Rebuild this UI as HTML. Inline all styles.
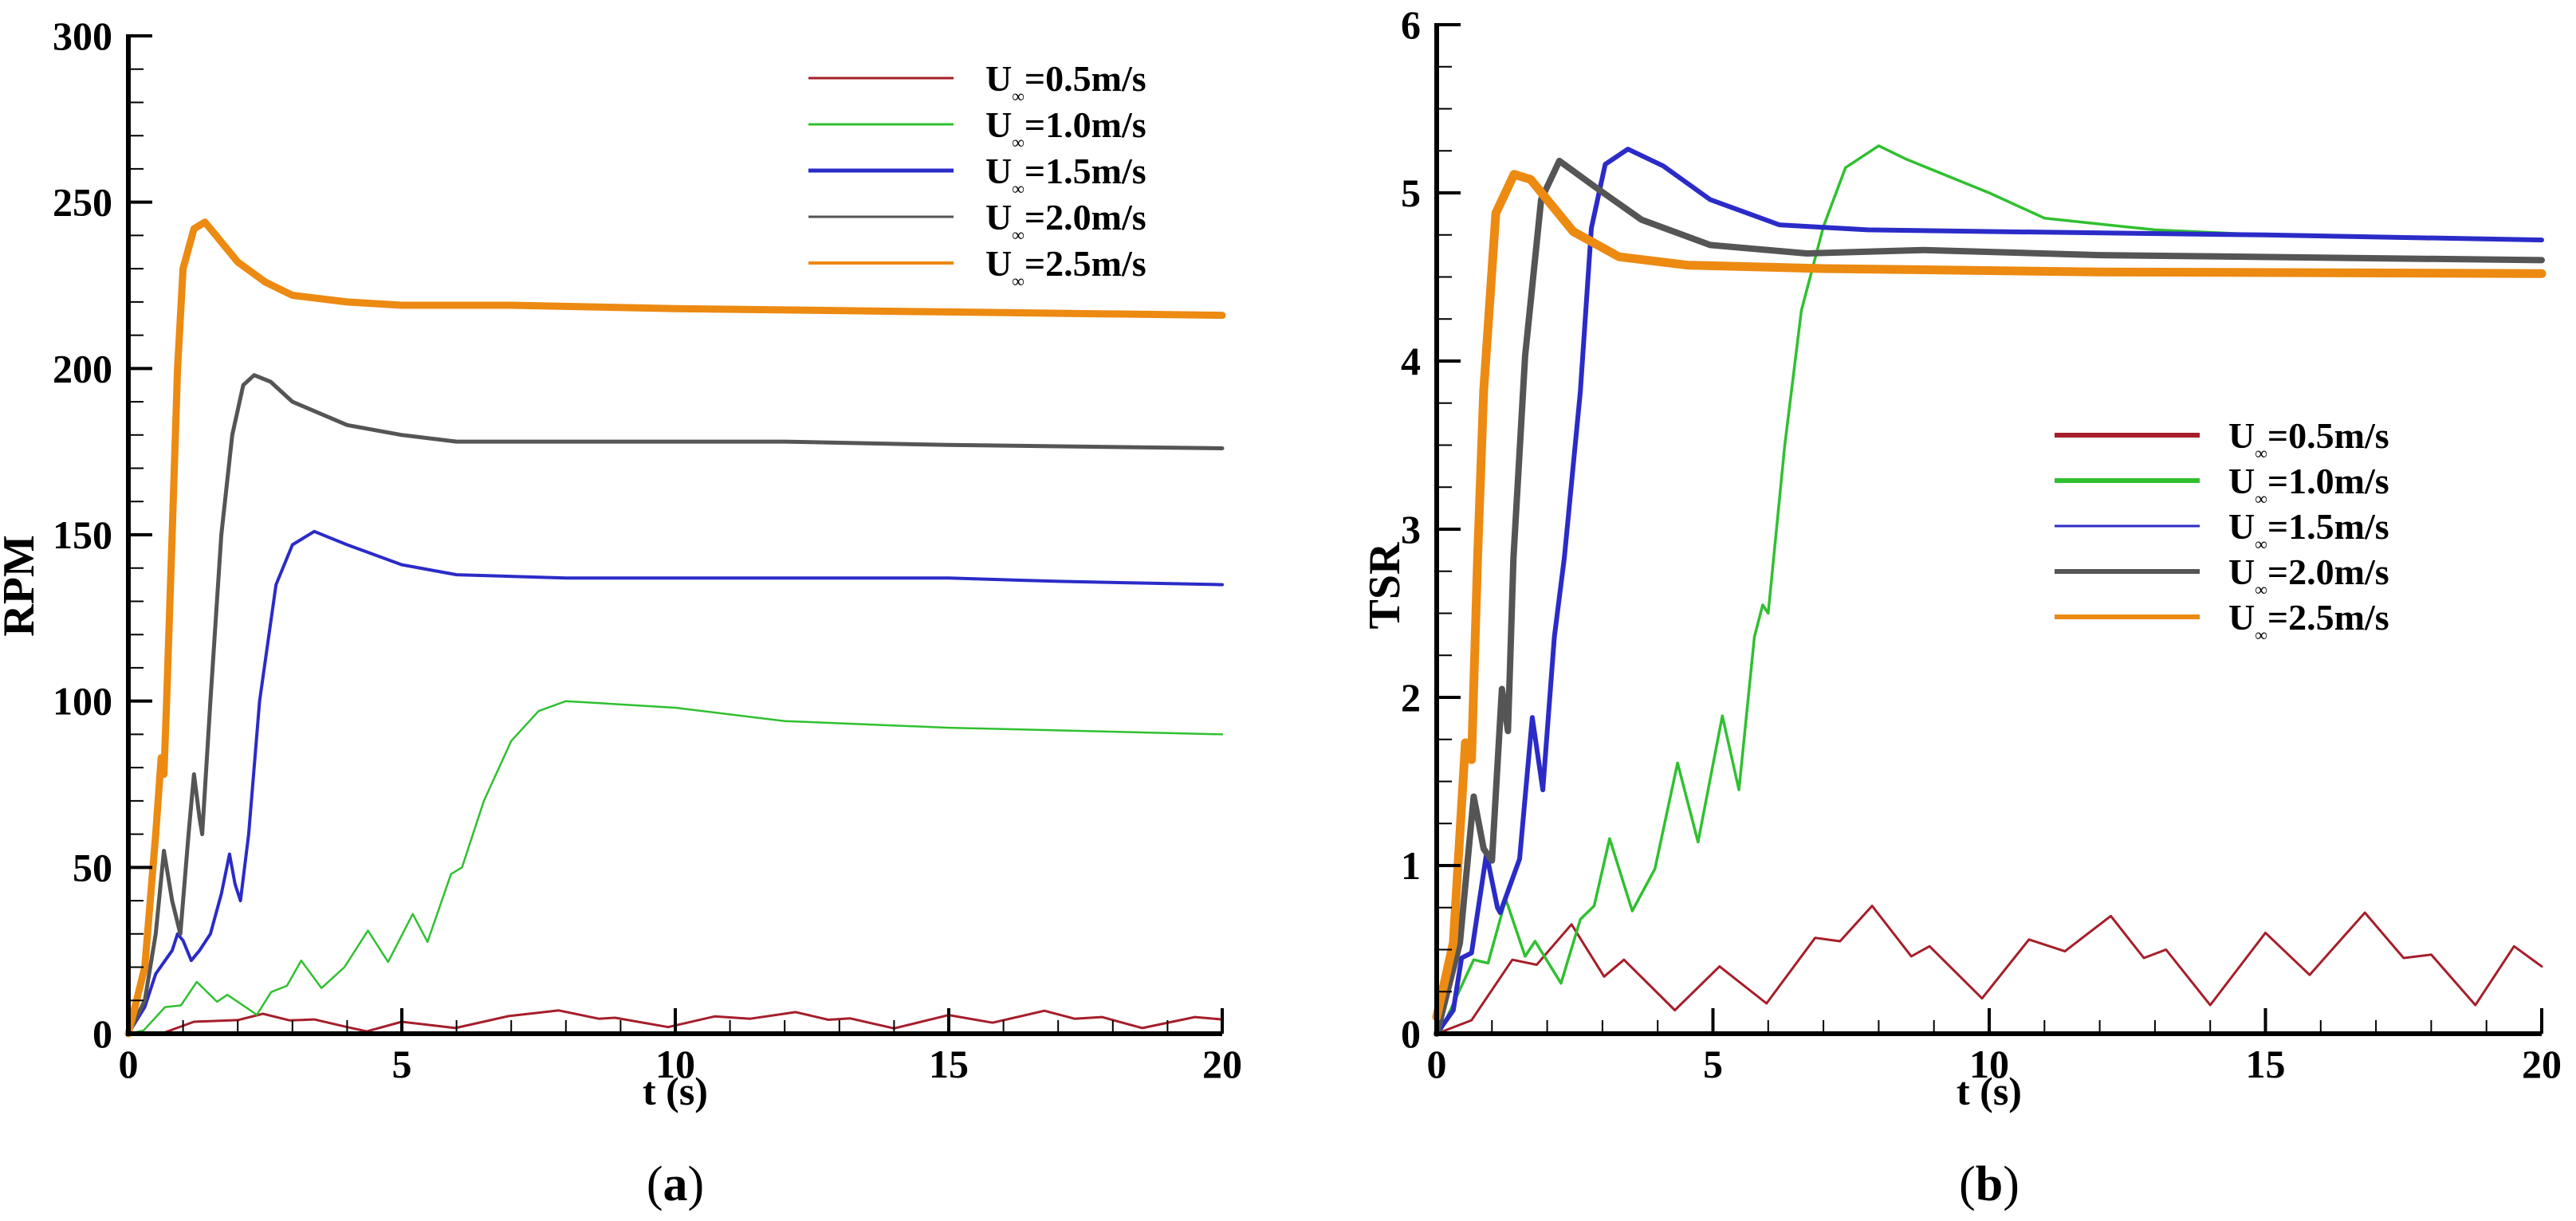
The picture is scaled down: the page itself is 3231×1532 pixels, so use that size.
<!DOCTYPE html>
<html><head><meta charset="utf-8"><style>
html,body{margin:0;padding:0;background:#fff;}
svg{display:block;font-family:"Liberation Serif","DejaVu Serif",serif;}
</style></head><body>
<svg id="fig" width="3231" height="1532" viewBox="0 0 3231 1532" xmlns="http://www.w3.org/2000/svg">
<g id="pa"></g>
<g id="pb"></g>
</svg>
<script>
// ---- Chart (a) RPM data ----
const rpmT05 = [0,0.6,1.2,2.0,2.46,2.95,3.4,3.97,4.36,5.0,5.98,6.95,7.87,8.6,8.9,9.87,10.72,11.37,12.2,12.8,13.2,14.0,15.0,15.8,16.75,17.3,17.8,18.54,19.5,20];
const rpmV05 = [0,0,3.6,4.1,6,4,4.3,2.1,0.7,3.6,1.7,5.3,7,4.5,4.8,2,5.2,4.5,6.5,4.2,4.6,1.6,5.6,3.3,6.9,4.5,5,1.7,5,4.3];
const rpmT10 = [0,0.28,0.67,0.96,1.25,1.62,1.81,2.35,2.61,2.9,3.16,3.53,3.95,4.38,4.75,5.2,5.47,5.9,6.1,6.5,7,7.5,8,10,12,15,20];
const rpmV10 = [0,1,8,8.5,15.6,9.6,11.7,5.7,12.5,14.4,22,13.7,20,31,21.6,36,27.6,48,50,70,88,97,100,98,94,92,90];
const rpmT15 = [0,0.3,0.5,0.8,0.9,1.0,1.15,1.3,1.5,1.7,1.85,1.95,2.05,2.2,2.4,2.7,3.0,3.4,4,5,6,8,10,12,15,17,20];
const rpmV15 = [0,8,18,25,30,28,22,25,30,42,54,45,40,60,100,135,147,151,147,141,138,137,137,137,137,136,135];
const rpmT20 = [0,0.3,0.5,0.65,0.8,0.95,1.1,1.2,1.3,1.35,1.5,1.7,1.9,2.1,2.3,2.6,3,4,5,6,8,10,12,15,20];
const rpmV20 = [0,10,30,55,40,30,60,78,65,60,100,150,180,195,198,196,190,183,180,178,178,178,178,177,176];
const rpmT25 = [0,0.3,0.5,0.6,0.65,0.7,0.8,0.9,1.0,1.2,1.4,1.6,2.0,2.5,3,4,5,7,10,15,20];
const rpmV25 = [0,20,60,83,78,100,150,200,230,242,244,240,232,226,222,220,219,219,218,217,216];
// ---- Chart (b) TSR data ----
const tsrT05 = [0,0.63,1.37,1.81,2.44,3.03,3.39,4.31,5.12,5.97,6.85,7.3,7.88,8.59,8.92,9.87,10.72,11.37,12.2,12.8,13.2,14.0,15.0,15.8,16.8,17.5,18.0,18.8,19.5,20];
const tsrV05 = [0,0.08,0.44,0.41,0.65,0.34,0.44,0.14,0.40,0.18,0.57,0.55,0.76,0.46,0.52,0.21,0.56,0.49,0.7,0.45,0.5,0.17,0.6,0.35,0.72,0.45,0.47,0.17,0.52,0.4];
const tsrT10 = [0,0.05,0.67,0.93,1.25,1.6,1.78,2.25,2.6,2.85,3.13,3.54,3.95,4.36,4.73,5.17,5.47,5.75,5.9,6.0,6.3,6.6,7.0,7.4,8.0,8.5,10,11,13,15,20];
const tsrV10 = [0,0,0.44,0.42,0.80,0.46,0.55,0.30,0.68,0.76,1.16,0.73,0.98,1.61,1.14,1.89,1.45,2.36,2.55,2.5,3.5,4.3,4.8,5.15,5.28,5.2,5.0,4.85,4.78,4.75,4.72];
const tsrT15 = [0,0.3,0.45,0.63,0.9,1.1,1.15,1.5,1.73,1.92,2.13,2.31,2.6,2.8,3.05,3.46,4.1,4.95,6.2,7.8,10,15,20];
const tsrV15 = [0,0.14,0.45,0.48,1.07,0.75,0.72,1.04,1.88,1.45,2.36,2.83,3.82,4.79,5.17,5.26,5.16,4.96,4.81,4.78,4.77,4.75,4.72];
const tsrT20 = [0,0.42,0.67,0.85,1.0,1.18,1.29,1.39,1.6,1.89,2.22,2.89,3.71,4.95,6.7,8.8,12,20];
const tsrV20 = [0,0.54,1.41,1.1,1.03,2.05,1.8,2.83,4.03,4.96,5.19,5.03,4.84,4.69,4.64,4.66,4.63,4.6];
const tsrT25 = [0,0.3,0.52,0.63,0.74,0.85,1.07,1.4,1.7,2.47,3.3,4.54,7.0,12,20];
const tsrV25 = [0.1,0.54,1.73,1.63,2.83,3.82,4.88,5.11,5.08,4.77,4.62,4.57,4.55,4.53,4.52];
const legendLabels = ["=0.5m/s","=1.0m/s","=1.5m/s","=2.0m/s","=2.5m/s"];
const xTicks = [0,5,10,15,20];
const rpmTicks = [0,50,100,150,200,250,300];
const tsrTicks = [0,1,2,3,4,5,6];

const NS="http://www.w3.org/2000/svg";
function mk(parent,tag,attrs){const e=document.createElementNS(NS,tag);for(const k in attrs)e.setAttribute(k,attrs[k]);parent.appendChild(e);return e;}
const colors=["#a51e2a","#30c030","#2b2bc8","#555555","#ec8a12"];

function drawChart(g,cfg){
  const X=t=>cfg.x0+(t-0)/(20)*(cfg.x1-cfg.x0);
  const Y=v=>cfg.y0-(v-cfg.vmin)/(cfg.vmax-cfg.vmin)*(cfg.y0-cfg.y1);
  cfg.series.forEach((s,i)=>{
    let d="";s.t.forEach((t,j)=>{d+=(j?"L":"M")+X(t).toFixed(1)+","+Y(s.v[j]).toFixed(1);});
    const p=mk(g,"path",{d:d,fill:"none",stroke:colors[i],"stroke-width":s.w,"stroke-linejoin":"round","stroke-linecap":"round"});
    
    
  });
  const ax=mk(g,"path",{d:`M${cfg.x0},${cfg.y1-2}L${cfg.x0},${cfg.y0}L${cfg.x1},${cfg.y0}`,fill:"none",stroke:"#000","stroke-width":6});
  
  
  for(let t=0;t<=20;t++){
    const maj=t%5===0;
    const tk=mk(g,"line",{x1:X(t),x2:X(t),y1:cfg.y0,y2:cfg.y0-(maj?32:17),stroke:"#000","stroke-width":maj?4:2});
    
    
  }
  xTicks.forEach(t=>{
    const tx=mk(g,"text",{x:X(t),y:cfg.y0+55,"font-size":50,"font-weight":"bold","text-anchor":"middle"});
    tx.textContent=t;
    
    
  });
  const nMin=Math.round((cfg.vmax-cfg.vmin)/cfg.minor);
  for(let k=0;k<=nMin;k++){
    const v=cfg.vmin+k*cfg.minor;
    const maj=Math.abs(v/cfg.major-Math.round(v/cfg.major))<1e-6;
    const tk=mk(g,"line",{x1:cfg.x0,x2:cfg.x0+(maj?30:19),y1:Y(v),y2:Y(v),stroke:"#000","stroke-width":maj?4:2});
    
    
  }
  cfg.ticks.forEach(v=>{
    const tx=mk(g,"text",{x:cfg.x0-20,y:Y(v)+17,"font-size":50,"font-weight":"bold","text-anchor":"end"});
    tx.textContent=v;
    
    
  });
  const yt=mk(g,"text",{x:0,y:0,"font-size":56,"font-weight":"bold","text-anchor":"middle",transform:`translate(${cfg.ytx},735) rotate(-90)`});
  yt.textContent=cfg.ytitle;
  
  
  const xt=mk(g,"text",{x:(cfg.x0+cfg.x1)/2,y:1386,"font-size":50,"font-weight":"bold","text-anchor":"middle"});
  xt.textContent="t (s)";
  
  
  const cap=mk(g,"text",{x:(cfg.x0+cfg.x1)/2,y:1506,"font-size":62,"text-anchor":"middle"});
  cap.innerHTML=`(<tspan font-weight="bold">${cfg.cap}</tspan>)`;
  
  
  const lg=mk(g,"g",{});
  
  
  legendLabels.forEach((lab,i)=>{
    const yy=cfg.ly[0]+i*cfg.ly[1];
    const ln=mk(lg,"line",{x1:cfg.lx[0],x2:cfg.lx[1],y1:yy,y2:yy,stroke:colors[i],"stroke-width":cfg.lw[i]});
    
    
    const tx=mk(lg,"text",{x:cfg.lx[2],y:yy+16,"font-size":46,"font-weight":"bold"});
    tx.innerHTML=`U<tspan font-size="22" font-weight="normal" dy="14">∞</tspan><tspan dy="-14">${lab}</tspan>`;
    
    
  });
}
drawChart(document.getElementById("pa"),{x0:161,x1:1533,y0:1297,y1:45,vmin:0,vmax:300,major:50,minor:10,ticks:rpmTicks,ytitle:"RPM",ytx:42,cap:"a",
  lx:[1014,1196,1236],ly:[98,58],lw:[3,3,5,3,4],
  series:[{name:"0.5",t:rpmT05,v:rpmV05,w:3},{name:"1.0",t:rpmT10,v:rpmV10,w:2.5},{name:"1.5",t:rpmT15,v:rpmV15,w:4},{name:"2.0",t:rpmT20,v:rpmV20,w:5},{name:"2.5",t:rpmT25,v:rpmV25,w:9}]});
drawChart(document.getElementById("pb"),{x0:1802,x1:3188,y0:1297,y1:31,vmin:0,vmax:6,major:1,minor:0.25,ticks:tsrTicks,ytitle:"TSR",ytx:1755,cap:"b",
  lx:[2577,2759,2795],ly:[546,57],lw:[6,6,3,6,6],
  series:[{name:"0.5",t:tsrT05,v:tsrV05,w:3},{name:"1.0",t:tsrT10,v:tsrV10,w:3.5},{name:"1.5",t:tsrT15,v:tsrV15,w:6},{name:"2.0",t:tsrT20,v:tsrV20,w:8},{name:"2.5",t:tsrT25,v:tsrV25,w:11}]});
</script>
</body></html>
